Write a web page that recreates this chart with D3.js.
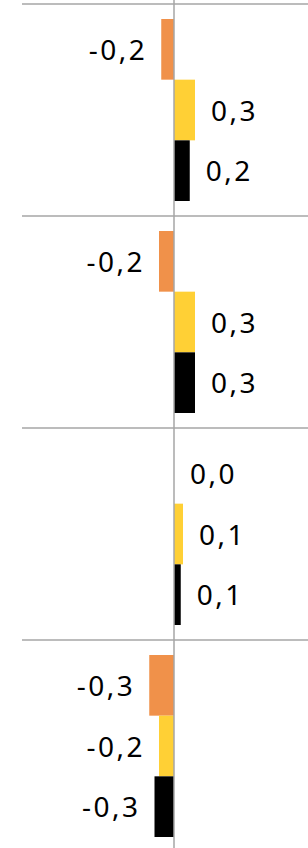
<!DOCTYPE html>
<html>
<head>
<meta charset="utf-8">
<script src="https://cdn.jsdelivr.net/npm/d3@7"></script>
<style>
  body { margin: 0; background: #fff; }
  svg { display: block; }
  .lbl { font-family: "Noto Sans", sans-serif; font-size: 28px; fill: #000; }
</style>
</head>
<body>
<svg width="308" height="848"></svg>
<script>
// categories (groups top to bottom) and three series
var groups = ["g1", "g2", "g3", "g4"];
var series = ["orange", "yellow", "black"];
var orangeVals = [-0.17, -0.20, 0.00, -0.33];
var yellowVals = [0.28, 0.28, 0.12, -0.20];
var blackVals  = [0.21, 0.28, 0.09, -0.26];
var colors = ["#F0914A", "#FFD035", "#000000"];

var width = 308, height = 848;
var svg = d3.select("svg");

// plot area runs past the bottom edge of the window (cropped chart)
var y = d3.scaleBand().domain(groups).range([4, 852]).paddingInner(0).paddingOuter(0);
var ySub = d3.scaleBand().domain(series).range([15, y.bandwidth() - 15]);
var x = d3.scaleLinear().domain([-1, 1]).range([174 - 75, 174 + 75]);

var fmt = function(v) { return d3.format(".1f")(v).replace(".", ",").replace("−", "-"); };

var data = [];
groups.forEach(function(g, i) {
  data.push({g: g, s: "orange", v: orangeVals[i], c: colors[0]});
  data.push({g: g, s: "yellow", v: yellowVals[i], c: colors[1]});
  data.push({g: g, s: "black", v: blackVals[i], c: colors[2]});
});

// horizontal gridlines between groups
svg.selectAll("line.grid").data(groups.concat(["end"]))
  .enter().append("line")
  .attr("class", "grid")
  .attr("x1", 22).attr("x2", width)
  .attr("y1", function(d, i) { return 4 + i * y.step(); })
  .attr("y2", function(d, i) { return 4 + i * y.step(); })
  .attr("stroke", "#A6A6A6").attr("stroke-width", 1.5);

var bars = svg.append("g");
bars.selectAll("rect").data(data)
  .enter().append("rect")
  .attr("x", function(d) { return Math.min(x(0), x(d.v)); })
  .attr("width", function(d) { return Math.abs(x(d.v) - x(0)); })
  .attr("y", function(d) { return y(d.g) + ySub(d.s); })
  .attr("height", ySub.bandwidth())
  .attr("fill", function(d) { return d.c; });

// zero axis
svg.append("line")
  .attr("x1", x(0)).attr("x2", x(0))
  .attr("y1", 0).attr("y2", height)
  .attr("stroke", "#A6A6A6").attr("stroke-width", 1.5);

svg.selectAll("text.lbl").data(data)
  .enter().append("text")
  .attr("class", "lbl")
  .attr("x", function(d) { return d.v < 0 ? x(d.v) - 14 : x(d.v) + 16; })
  .attr("y", function(d) { return y(d.g) + ySub(d.s) + ySub.bandwidth() / 2; })
  .attr("dy", "0.38em")
  .attr("text-anchor", function(d) { return d.v < 0 ? "end" : "start"; })
  .attr("letter-spacing", "2.5px")
  .text(function(d) { return fmt(d.v); });
</script>
</body>
</html>
